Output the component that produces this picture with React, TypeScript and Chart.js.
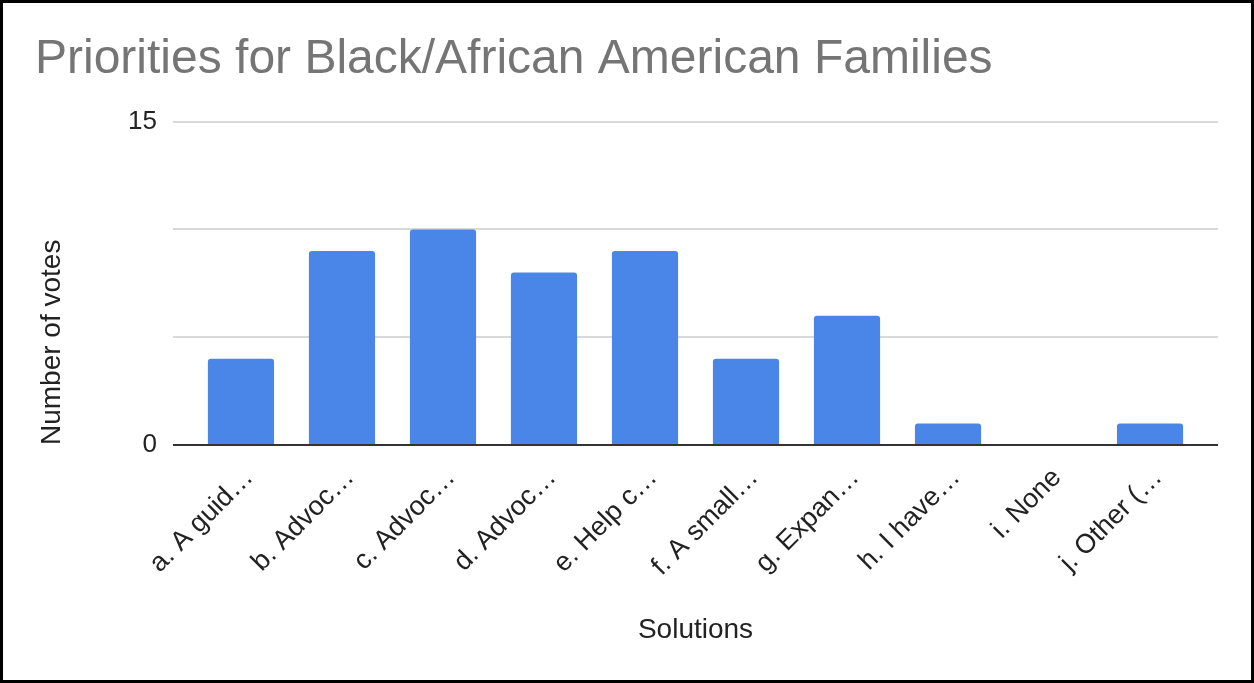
import React, { useEffect, useRef } from "react";
import { Chart, registerables } from "chart.js";

Chart.register(...registerables);

const chartTitle = "Priorities for Black/African American Families";
const categories = [
  "a. A guid…",
  "b. Advoc…",
  "c. Advoc…",
  "d. Advoc…",
  "e. Help c…",
  "f. A small…",
  "g. Expan…",
  "h. I have…",
  "i. None",
  "j. Other (…",
];
const votes = [4, 9, 10, 8, 9, 4, 6, 1, 0, 1];
const yTickLabels = [0, 15];
const xAxisTitle = "Solutions";
const yAxisTitle = "Number of votes";

const FONT = "Arial, 'Liberation Sans', Helvetica, sans-serif";

export default function App() {
  const ref = useRef<HTMLCanvasElement>(null);

  useEffect(() => {
    const canvas = ref.current;
    if (!canvas) return;
    const chart = new Chart(canvas, {
      type: "bar",
      data: {
        datasets: [
          {
            data: votes.map((v, i) => ({ x: i, y: v })),
            backgroundColor: "#4a86e8",
            borderWidth: 0,
            borderRadius: 3,
            barPercentage: 0.655,
            categoryPercentage: 1,
          },
        ],
      },
      options: {
        responsive: false,
        devicePixelRatio: 1,
        animation: false,
        layout: { padding: { left: 32, right: 33, top: 0, bottom: 0 } },
        plugins: {
          legend: { display: false },
          tooltip: { enabled: false },
          title: {
            display: true,
            text: chartTitle,
            align: "start",
            color: "#757575",
            font: { family: FONT, size: 48, weight: "normal" },
            padding: { top: 28, bottom: 33 },
          },
        },
        scales: {
          x: {
            type: "linear",
            min: -0.673,
            max: 9.673,
            offset: false,
            afterBuildTicks: (scale: any) => {
              scale.ticks = categories.map((_, i) => ({ value: i }));
            },
            afterFit: (scale: any) => {
              scale.height = 235;
            },
            grid: { display: false, drawTicks: false },
            border: { display: false },
            ticks: {
              autoSkip: false,
              minRotation: 45,
              maxRotation: 45,
              padding: 17,
              labelOffset: 8,
              color: "#222",
              font: { family: FONT, size: 27 },
              callback: (v: any) => categories[v as number] ?? "",
            },
            title: {
              display: true,
              text: xAxisTitle,
              color: "#222",
              font: { family: FONT, size: 28 },
              padding: { top: 0, bottom: 33 },
            },
          },
          y: {
            min: 0,
            max: 15,
            afterFit: (scale: any) => {
              scale.width = 138;
            },
            grid: {
              drawTicks: false,
              color: (ctx: any) => (ctx.tick && ctx.tick.value === 0 ? "#333333" : "#d9d9d9"),
              lineWidth: 2,
            },
            border: { display: false },
            ticks: {
              stepSize: 5,
              padding: 16,
              color: "#222",
              font: { family: FONT, size: 26 },
              callback: (v: any) => (yTickLabels.includes(v as number) ? String(v) : ""),
            },
            title: {
              display: true,
              text: yAxisTitle,
              align: "start",
              color: "#222",
              font: { family: FONT, size: 28 },
              padding: { top: 0, bottom: 0 },
            },
          },
        },
      },
    });
    return () => chart.destroy();
  }, []);

  return (
    <div
      style={{
        position: "absolute",
        left: 0,
        top: 0,
        width: 1254,
        height: 683,
        border: "3px solid #000",
        boxSizing: "border-box",
        background: "#fff",
      }}
    >
      <canvas ref={ref} width={1248} height={677} style={{ display: "block" }} />
    </div>
  );
}
